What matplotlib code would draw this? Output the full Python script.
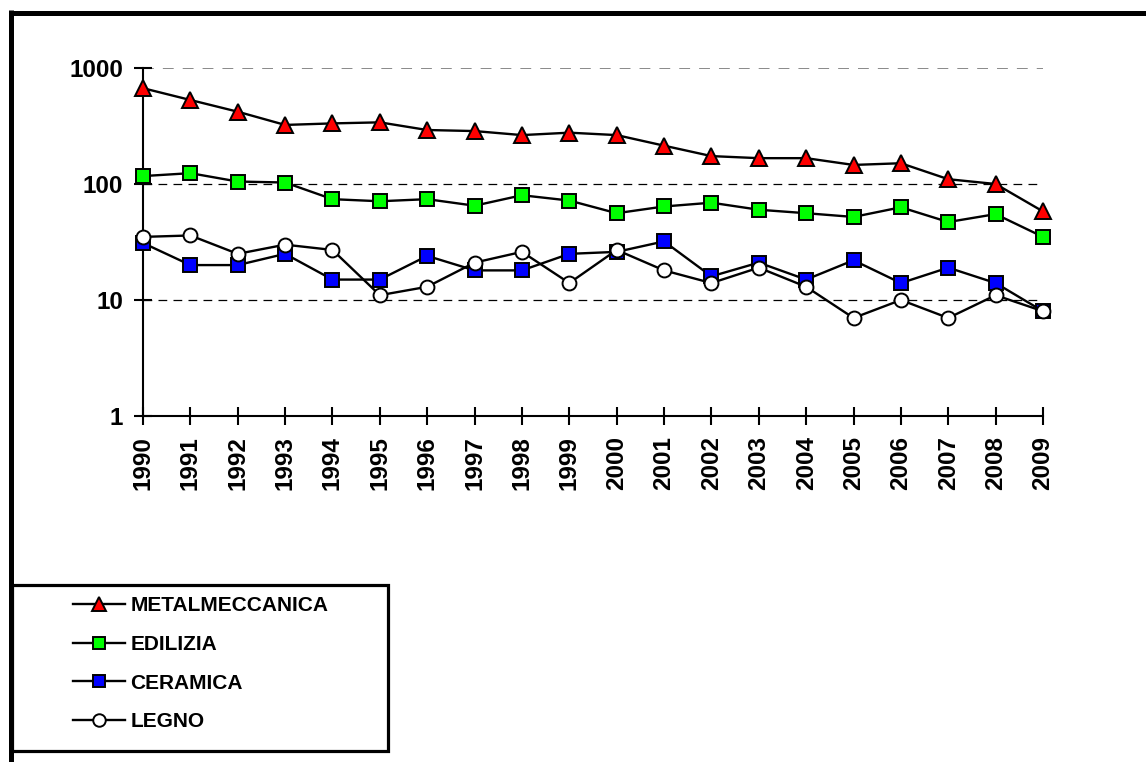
import numpy as np
import matplotlib
matplotlib.use("Agg")
import matplotlib.pyplot as plt
from matplotlib.lines import Line2D
from matplotlib.patches import Rectangle

plt.rcParams['font.family'] = ['Liberation Sans', 'DejaVu Sans']
plt.rcParams['font.weight'] = 'bold'

# data (log scale)
anni = list(range(1990, 2010))
metalmeccanica = [670, 530, 420, 323, 333, 340, 292, 286, 264, 277,
                  264, 214, 174, 167, 167, 146, 151, 110, 100, 58]
edilizia = [117, 124, 105, 103, 74, 71, 74, 65, 80, 72,
            56, 64, 69, 60, 56, 52, 63, 47, 55, 35]
ceramica = [31, 20, 20, 25, 15, 15, 24, 18, 18, 25,
            26, 32, 16, 21, 15, 22, 14, 19, 14, 8]
legno = [35, 36, 25, 30, 27, 11, 13, 21, 26, 14,
         27, 18, 14, 19, 13, 7, 10, 7, 11, 8]

serie = [
    ("METALMECCANICA", metalmeccanica, '^', 'red', 11),
    ("EDILIZIA", edilizia, 's', '#00ff00', 9.5),
    ("CERAMICA", ceramica, 's', 'blue', 9.5),
    ("LEGNO", legno, 'o', 'white', 10),
]

W, H = 1146, 762
fig = plt.figure(figsize=(W / 100, H / 100), dpi=100)
ax = fig.add_axes([143 / W, 1 - 416 / H, 900 / W, 348 / H])

# dashed gridlines
ax.axhline(1000, color='#808080', lw=1.3, dashes=(6, 5), zorder=1)
for g in [10, 100]:
    ax.axhline(g, color='black', lw=0.9, dashes=(7, 5), zorder=1)

handles = []
for nome, vals, mk, col, ms in serie:
    ln, = ax.plot(anni, vals, color='black', lw=1.7, marker=mk, markersize=ms,
                  markerfacecolor=col, markeredgecolor='black', markeredgewidth=1.4,
                  clip_on=False, zorder=3, label=nome)
    handles.append(ln)

ax.set_yscale('log')
ax.set_ylim(1, 1000)
ax.set_xlim(1990, 2009)
ax.set_yticks([1, 10, 100, 1000])
ax.set_yticklabels(['1', '10', '100', '1000'])
ax.yaxis.set_minor_locator(matplotlib.ticker.NullLocator())
ax.set_xticks(anni)
ax.set_xticklabels([str(a) for a in anni], rotation=90)

for s in ['top', 'right']:
    ax.spines[s].set_visible(False)
for s in ['left', 'bottom']:
    ax.spines[s].set_linewidth(1.5)
ax.tick_params(axis='both', direction='inout', length=12.5, width=1.5,
               labelsize=17.5, pad=8)
for t in ax.get_xticklabels() + ax.get_yticklabels():
    t.set_fontweight('bold')

# outer border (only top and left visible)
fig.add_artist(Line2D([10 / W, 1.0], [1 - 12.5 / H] * 2, transform=fig.transFigure,
                      color='black', lw=3.6, solid_capstyle='butt'))
fig.add_artist(Line2D([11 / W] * 2, [0.0, 1 - 10 / H], transform=fig.transFigure,
                      color='black', lw=3.6, solid_capstyle='butt'))

# legend box
fig.add_artist(Rectangle((12 / W, 1 - 751 / H), 376 / W, 166 / H,
                         transform=fig.transFigure, fill=False,
                         edgecolor='black', lw=2.3))
leg = fig.legend(handles=handles, loc='upper left',
                 bbox_to_anchor=(73 / W, 1 - 596 / H), frameon=False,
                 prop={'size': 15, 'weight': 'bold'}, handlelength=2.5,
                 handletextpad=0.25, labelspacing=0.95, borderpad=0,
                 borderaxespad=0, markerscale=0.9)

fig.savefig('out.png', dpi=100)
